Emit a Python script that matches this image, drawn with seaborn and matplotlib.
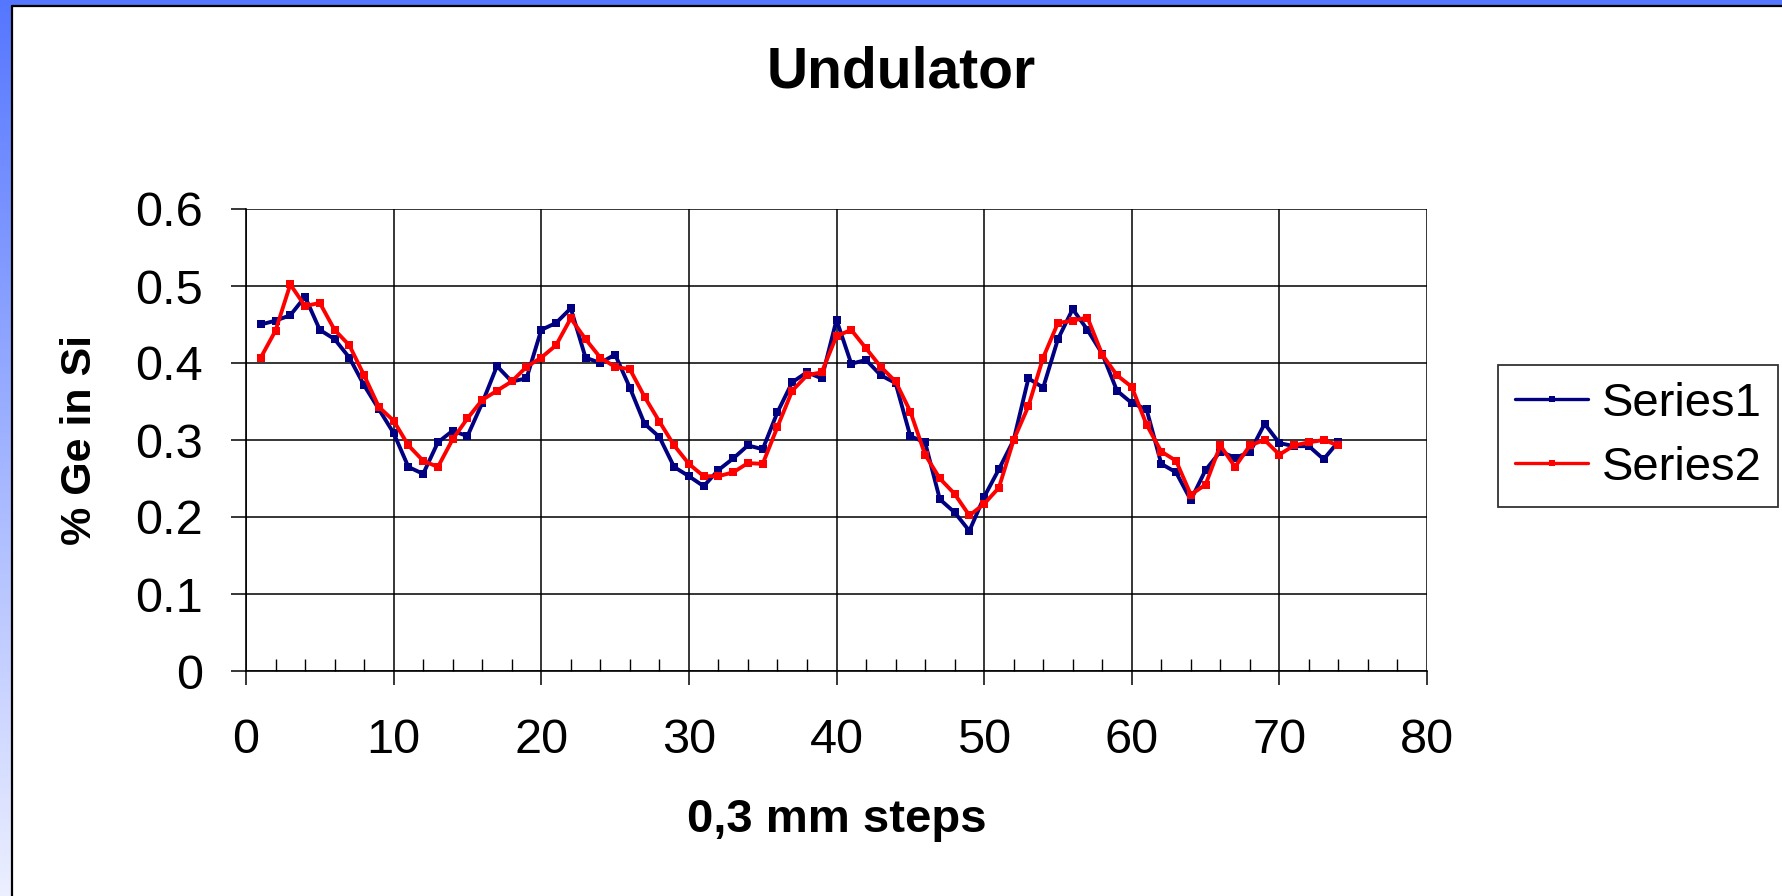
import numpy as np
import pandas as pd
import matplotlib
matplotlib.use("Agg")
import matplotlib.pyplot as plt
import seaborn as sns
from matplotlib.ticker import MultipleLocator, FuncFormatter
from matplotlib.patches import Rectangle
from matplotlib.lines import Line2D

# ---------------- data ----------------
steps = list(range(1, 75))
series1 = [0.450, 0.455, 0.462, 0.486, 0.443, 0.431, 0.407, 0.371, 0.340, 0.309,
           0.265, 0.256, 0.297, 0.312, 0.305, 0.348, 0.396, 0.376, 0.380, 0.443,
           0.452, 0.471, 0.407, 0.400, 0.411, 0.368, 0.321, 0.304, 0.265, 0.253,
           0.240, 0.261, 0.276, 0.293, 0.288, 0.336, 0.375, 0.388, 0.380, 0.456,
           0.399, 0.404, 0.384, 0.374, 0.305, 0.297, 0.223, 0.206, 0.182, 0.226,
           0.262, 0.300, 0.380, 0.368, 0.431, 0.470, 0.443, 0.412, 0.364, 0.348,
           0.340, 0.269, 0.258, 0.222, 0.261, 0.285, 0.277, 0.284, 0.321, 0.296,
           0.292, 0.292, 0.275, 0.298]
series2 = [0.407, 0.442, 0.502, 0.474, 0.478, 0.443, 0.423, 0.384, 0.343, 0.325,
           0.293, 0.273, 0.265, 0.301, 0.328, 0.352, 0.364, 0.376, 0.395, 0.407,
           0.423, 0.458, 0.431, 0.407, 0.395, 0.392, 0.356, 0.324, 0.293, 0.269,
           0.253, 0.253, 0.258, 0.270, 0.269, 0.317, 0.364, 0.384, 0.388, 0.435,
           0.443, 0.419, 0.395, 0.376, 0.337, 0.281, 0.250, 0.230, 0.202, 0.217,
           0.238, 0.300, 0.344, 0.407, 0.452, 0.455, 0.459, 0.411, 0.384, 0.369,
           0.320, 0.285, 0.273, 0.229, 0.242, 0.293, 0.265, 0.293, 0.300, 0.281,
           0.293, 0.297, 0.300, 0.293]
series_names = ["Series1", "Series2"]
x_ticks = [0, 10, 20, 30, 40, 50, 60, 70, 80]
y_ticks = [0, 0.1, 0.2, 0.3, 0.4, 0.5, 0.6]
title = "Undulator"
x_label = "0,3 mm steps"
y_label = "% Ge in Si"

df = pd.DataFrame({
    "step": steps + steps,
    "value": series1 + series2,
    "series": [series_names[0]] * len(series1) + [series_names[1]] * len(series2),
})

# ---------------- style ----------------
sns.set_style("white")
plt.rcParams["font.family"] = ["Liberation Sans", "DejaVu Sans"]
plt.rcParams["text.color"] = "black"
plt.rcParams["axes.labelcolor"] = "black"
plt.rcParams["xtick.color"] = "black"
plt.rcParams["ytick.color"] = "black"

W, H = 1782, 896
fig = plt.figure(figsize=(W / 100, H / 100), dpi=100, facecolor="white")

# blue slide frame (left gradient strip + top strip + black border)
grad_ax = fig.add_axes([0, 0, 11.5 / W, 1])
top_c = np.array([85, 119, 255]) / 255.0
bot_c = np.array([236, 239, 255]) / 255.0
t = np.linspace(0, 1, 256)[:, None]
grad = (top_c[None, :] * (1 - t) + bot_c[None, :] * t)[:, None, :]
grad_ax.imshow(grad, aspect="auto", extent=[0, 1, 0, 1])
grad_ax.axis("off")
fig.add_artist(Rectangle((0, 1 - 6.5 / H), 1, 6.5 / H, transform=fig.transFigure,
                         facecolor="#5577ff", edgecolor="none"))
fig.add_artist(Line2D([11.8 / W, 11.8 / W], [0, 1 - 6.5 / H], transform=fig.transFigure,
                      color="black", lw=1.6))
fig.add_artist(Line2D([11.8 / W, 1], [1 - 6.5 / H, 1 - 6.5 / H], transform=fig.transFigure,
                      color="black", lw=1.6))

# main axes
ax = fig.add_axes([246 / W, 1 - 671 / H, 1181 / W, 462 / H])
ax.set_facecolor("white")

palette = {"Series1": "#000080", "Series2": "#ff0000"}
sns.lineplot(data=df, x="step", y="value", hue="series", palette=palette,
             style="series", markers={"Series1": "s", "Series2": "s"}, dashes=False,
             markersize=5.5, markeredgewidth=0, linewidth=2.8, ax=ax, legend=False,
             zorder=3)

ax.set_xlim(0, 80)
ax.set_ylim(0, 0.6)
ax.set_xticks(x_ticks)
ax.set_yticks(y_ticks)
ax.xaxis.set_minor_locator(MultipleLocator(2))
ax.yaxis.set_major_formatter(FuncFormatter(lambda v, p: "0" if abs(v) < 1e-9 else f"{v:.1f}"))
ax.xaxis.set_major_formatter(FuncFormatter(lambda v, p: f"{int(round(v))}"))

ax.grid(True, which="major", axis="both", color="black", linewidth=1.1)
ax.set_axisbelow(True)
for side in ["top", "right"]:
    ax.spines[side].set_visible(False)
for side in ["left", "bottom"]:
    ax.spines[side].set_visible(True)
    ax.spines[side].set_color("black")
    ax.spines[side].set_linewidth(1.2)

ax.tick_params(axis="x", which="major", direction="out", length=10, width=1.1,
               color="black", labelcolor="black", labelsize=35, pad=24, bottom=True)
ax.tick_params(axis="x", which="minor", direction="in", length=9, width=1.0,
               color="black", bottom=True)
ax.tick_params(axis="y", which="major", direction="out", length=11, width=1.1,
               color="black", labelcolor="black", labelsize=35, pad=20, left=True)

ax.set_xlabel(x_label, fontsize=34, fontweight="bold", color="black")
ax.xaxis.set_label_coords(0.5, -0.3225)
ax.xaxis.label.set_va("center")
ax.set_ylabel(y_label, fontsize=31, fontweight="bold", color="black")
ax.yaxis.set_label_coords(-0.1406, 0.5)
ax.yaxis.label.set_va("center")

fig.text(901 / W, 1 - 72.7 / H, title, fontsize=41, fontweight="bold",
         ha="center", va="center", color="black")

handles = [Line2D([], [], color=palette[n], marker="s", markersize=4.5,
                  markeredgewidth=0, lw=2.4) for n in series_names]
leg = ax.legend(handles, series_names, loc="upper left",
                bbox_to_anchor=(1498 / W, 1 - 365 / H), bbox_transform=fig.transFigure,
                fontsize=34, frameon=True, fancybox=False, shadow=False,
                borderpad=0.36, borderaxespad=0, labelspacing=0.42,
                handlelength=1.55, handletextpad=0.28)
for txt in leg.get_texts():
    txt.set_color("black")
leg.get_frame().set_edgecolor("#333333")
leg.get_frame().set_linewidth(1.3)
leg.get_frame().set_alpha(1)

fig.savefig("out.png", dpi=100, facecolor="white")
